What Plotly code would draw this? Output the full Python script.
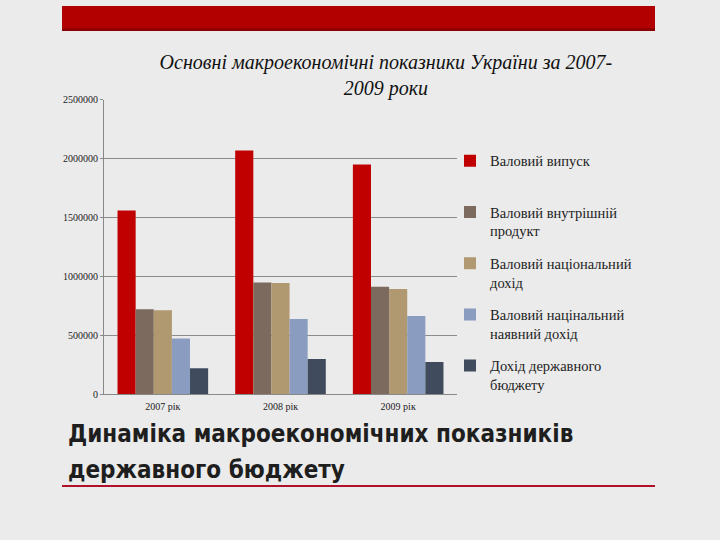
import plotly.graph_objects as go

years = ["2007 рік", "2008 рік", "2009 рік"]
series_names = [
    "Валовий випуск",
    "Валовий внутрішній<br>продукт",
    "Валовий національний<br>дохід",
    "Валовий націнальний<br>наявний дохід",
    "Дохід державного<br>бюджету",
]
gross_output = [1561000, 2070000, 1951000]
gdp = [720700, 948100, 913300]
gni = [713000, 944000, 893000]
gndi = [472000, 639000, 664000]
budget = [219900, 297900, 273000]
colors = ["#c00000", "#7b6a5d", "#b09870", "#8a9cc0", "#404c5e"]
y_ticks = [0, 500000, 1000000, 1500000, 2000000, 2500000]

values = [gross_output, gdp, gni, gndi, budget]
SERIF = "Liberation Serif, Times New Roman, serif"

fig = go.Figure()
for i, (name, vals, col) in enumerate(zip(series_names, values, colors)):
    label = name if "<br>" in name else name + "<br> "
    fig.add_trace(go.Bar(
        x=years, y=vals, name=label, marker=dict(color=col, line=dict(width=0)),
        legendgroup=str(i),
    ))

fig.update_layout(
    width=720, height=540,
    margin=dict(l=0, r=0, t=0, b=0),
    paper_bgcolor="#ebebeb",
    plot_bgcolor="rgba(0,0,0,0)",
    barmode="group",
    bargap=0.23,
    bargroupgap=0,
    showlegend=True,
    title=dict(
        text="Основні макроекономічні показники України за 2007-<br>2009 роки",
        x=0.536, xanchor="center", y=0.873, yanchor="top",
        font=dict(family=SERIF, size=20, color="#111111", style="italic"),
    ),
    legend=dict(
        x=0.625, xanchor="left", y=0.737, yanchor="top",
        font=dict(family=SERIF, size=14.5, color="#222222"),
        valign="top", tracegroupgap=10.5, bgcolor="rgba(0,0,0,0)",
    ),
    xaxis=dict(
        domain=[104 / 720, 457 / 720],
        showline=True, linecolor="#888888", linewidth=1,
        tickfont=dict(family=SERIF, size=10, color="#222222"),
        ticks="", showgrid=False, ticklabelstandoff=3,
    ),
    yaxis=dict(
        domain=[1 - 397 / 540, 1 - 96 / 540],
        range=[0, 2500000],
        tickvals=y_ticks, ticktext=[str(v) for v in y_ticks],
        showline=True, linecolor="#888888", linewidth=1,
        showgrid=True, gridcolor="#8c8c8c", gridwidth=1,
        ticks="outside", ticklen=3, tickcolor="#888888",
        tickfont=dict(family=SERIF, size=10, color="#222222"),
        zeroline=False,
    ),
    font=dict(family=SERIF),
)

# decorative banner and underline of slide
fig.add_shape(type="rect", xref="paper", yref="paper",
              x0=62 / 720, x1=655 / 720, y0=1 - 25.6 / 540, y1=1,
              fillcolor="#b20000", line=dict(width=0), layer="below")
fig.add_shape(type="rect", xref="paper", yref="paper",
              x0=62 / 720, x1=655 / 720, y0=1 - 25.6 / 540, y1=1 - 22.5 / 540,
              fillcolor="#8e0000", line=dict(width=0), layer="below")
fig.add_shape(type="line", xref="paper", yref="paper",
              x0=62 / 720, x1=655 / 720, y0=1 - 491 / 540, y1=1 - 491 / 540,
              line=dict(color="#b0102a", width=2))

HEAD_FONT = dict(family="DejaVu Sans Condensed, DejaVu Sans", size=24, color="#1e1e1e", weight="bold")
fig.add_annotation(
    text="Динаміка макроекономічних показників",
    xref="paper", yref="paper", x=66 / 720, y=1 - 438 / 540,
    xanchor="left", yanchor="middle", align="left", showarrow=False,
    font=HEAD_FONT,
)
fig.add_annotation(
    text="державного бюджету",
    xref="paper", yref="paper", x=66 / 720, y=1 - 475 / 540,
    xanchor="left", yanchor="middle", align="left", showarrow=False,
    font=HEAD_FONT,
)

fig.write_html(
    "out.html",
    config={"displayModeBar": False},
    post_script=(
        "document.documentElement.style.margin='0';"
        "document.body.style.margin='0';document.body.style.padding='0';"
        "document.body.style.overflow='hidden';document.body.style.background='#ebebeb';"
        "var d=document.getElementById('{plot_id}');"
        "d.style.position='fixed';d.style.top='0px';d.style.left='0px';"
    ),
)
